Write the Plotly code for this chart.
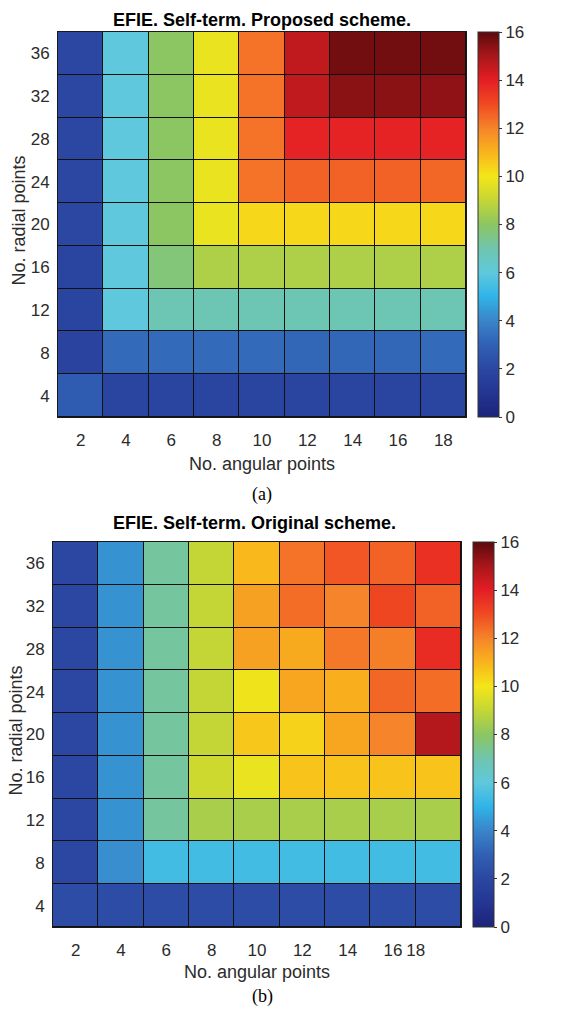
import plotly.graph_objects as go

W, H = 567, 1009

# Grid axes
angular_pts = [2, 4, 6, 8, 10, 12, 14, 16, 18]
radial_pts = [4, 8, 12, 16, 20, 24, 28, 32, 36]

# Self-term values, one row per radial count (4 -> 36)
proposed = [
    [2.8, 1.9, 1.9, 1.9, 1.9, 1.9, 1.9, 1.9, 1.9],
    [1.8, 3.3, 3.3, 3.3, 3.3, 3.2, 3.2, 3.2, 3.3],
    [1.9, 6.0, 6.9, 6.9, 6.9, 6.9, 6.9, 6.9, 6.9],
    [1.9, 6.0, 7.7, 8.6, 8.6, 8.6, 8.6, 8.6, 8.6],
    [2.0, 6.0, 8.0, 9.8, 10.3, 10.3, 10.3, 10.3, 10.3],
    [2.0, 6.0, 8.0, 9.8, 12.3, 12.6, 12.6, 12.6, 12.5],
    [2.0, 6.0, 8.0, 9.8, 12.3, 13.9, 13.9, 13.9, 13.9],
    [2.0, 6.0, 8.0, 9.8, 12.3, 14.6, 15.4, 15.4, 15.3],
    [2.0, 6.0, 8.0, 9.8, 12.3, 14.6, 15.7, 15.7, 15.7],
]
original = [
    [2.2, 2.2, 2.2, 2.2, 2.2, 2.2, 2.2, 2.2, 2.2],
    [2.0, 4.2, 5.4, 5.4, 5.4, 5.4, 5.4, 5.4, 5.4],
    [2.0, 4.3, 7.2, 8.5, 8.5, 8.5, 8.5, 8.5, 8.5],
    [2.0, 4.3, 7.2, 9.2, 9.8, 10.7, 10.7, 10.7, 10.7],
    [2.0, 4.3, 7.2, 9.0, 10.6, 10.4, 11.3, 12.0, 14.8],
    [2.0, 4.3, 7.2, 9.0, 9.9, 11.3, 11.1, 12.5, 12.4],
    [2.0, 4.3, 7.2, 9.0, 11.4, 11.2, 12.2, 12.1, 13.7],
    [2.0, 4.3, 7.2, 9.0, 11.4, 12.4, 12.0, 13.1, 12.6],
    [2.0, 4.3, 7.2, 9.0, 10.9, 12.3, 12.8, 12.6, 13.6],
]

# Tick labels of the lower panel (last label sits at the 16/18 cell border)
lower_tickvals = [2, 4, 6, 8, 10, 12, 14, 16, 17]
lower_ticktext = ["2", "4", "6", "8", "10", "12", "14", "16", "18"]
cbar_ticks = [0, 2, 4, 6, 8, 10, 12, 14, 16]

ZMAX = 16.0
cmap_stops = [
    (0, "#1c237a"), (1, "#243592"), (2, "#2b47a2"), (3, "#3060b4"),
    (4, "#3a84c9"), (5, "#30b4e8"), (6, "#5fc8dc"), (7, "#6fc6ae"),
    (8, "#8cc662"), (9, "#c4d636"), (10, "#f4e619"), (11, "#f9b41c"),
    (12, "#f5842a"), (13, "#f04a22"), (14, "#e41e24"), (15, "#a8161a"),
    (16, "#5c0a0c"),
]
colorscale = [[v / ZMAX, c] for v, c in cmap_stops]

FONT = "Liberation Sans, Arial, sans-serif"
TXT = "#2b2b2b"


def px_x(p):
    return p / W


def px_y(p):
    return 1 - p / H


panels = [
    dict(z=proposed, title="EFIE. Self-term. Proposed scheme.", caption="(a)",
         left=58, right=466, top=32, bottom=417, cb_left=478,
         title_y=20, title_x=262, ytitle_x=19,
         xtitle_y=464, cap_y=495,
         tickvals=angular_pts, ticktext=[str(a) for a in angular_pts]),
    dict(z=original, title="EFIE. Self-term. Original scheme.", caption="(b)",
         left=53, right=461, top=542, bottom=927, cb_left=473,
         title_y=523, title_x=254, ytitle_x=15,
         xtitle_y=972, cap_y=996,
         tickvals=lower_tickvals, ticktext=lower_ticktext),
]

fig = go.Figure()
annotations = []
for i, p in enumerate(panels, start=1):
    xa = "x" if i == 1 else f"x{i}"
    ya = "y" if i == 1 else f"y{i}"
    fig.add_trace(go.Heatmap(
        x=angular_pts, y=radial_pts, z=p["z"],
        xaxis=xa, yaxis=ya,
        zmin=0, zmax=ZMAX, colorscale=colorscale,
        xgap=1, ygap=1,
        colorbar=dict(
            x=px_x(p["cb_left"]), xanchor="left", xpad=0,
            y=px_y((p["top"] + p["bottom"]) / 2), yanchor="middle", ypad=0,
            lenmode="pixels", len=p["bottom"] - p["top"],
            thicknessmode="pixels", thickness=21,
            outlinewidth=1, outlinecolor="#333333",
            tickmode="array", tickvals=cbar_ticks,
            ticks="outside", ticklen=3, tickcolor="#333333",
            tickfont=dict(family=FONT, size=17, color=TXT),
        ),
        hoverinfo="skip",
    ))
    axis_common = dict(showgrid=False, zeroline=False, showline=True,
                       linecolor="#1a1a1a", linewidth=1, mirror=True,
                       ticks="", tickfont=dict(family=FONT, size=17, color=TXT))
    fig.layout[("xaxis" if i == 1 else f"xaxis{i}")] = dict(
        axis_common,
        domain=[px_x(p["left"]), px_x(p["right"])],
        anchor=ya, range=[1, 19],
        tickmode="array", tickvals=p["tickvals"], ticktext=p["ticktext"],
        ticklabelstandoff=8,
    )
    fig.layout[("yaxis" if i == 1 else f"yaxis{i}")] = dict(
        axis_common,
        domain=[px_y(p["bottom"]), px_y(p["top"])],
        anchor=xa, range=[2, 38],
        tickmode="array", tickvals=radial_pts,
        ticklabelstandoff=4,
    )
    annotations += [
        dict(text=f"<b>{p['title']}</b>", x=px_x(p["title_x"]), y=px_y(p["title_y"]),
             xref="paper", yref="paper", showarrow=False, xanchor="center", yanchor="middle",
             font=dict(family=FONT, size=18, color="#000000")),
        dict(text="No. angular points", x=px_x((p["left"] + p["right"]) / 2),
             y=px_y(p["xtitle_y"]), xref="paper", yref="paper", showarrow=False,
             xanchor="center", yanchor="middle",
             font=dict(family=FONT, size=18, color=TXT)),
        dict(text="No. radial points", x=px_x(p["ytitle_x"]),
             y=px_y((p["top"] + p["bottom"]) / 2 - 4), xref="paper", yref="paper",
             showarrow=False, textangle=-90, xanchor="center", yanchor="middle",
             font=dict(family=FONT, size=18, color=TXT)),
        dict(text=p["caption"], x=px_x(262), y=px_y(p["cap_y"]), xref="paper", yref="paper",
             showarrow=False, xanchor="center", yanchor="middle",
             font=dict(family="Liberation Serif, Times New Roman, serif", size=18, color="#000000")),
    ]

fig.update_layout(
    width=W, height=H,
    margin=dict(l=0, r=0, t=0, b=0),
    paper_bgcolor="white", plot_bgcolor="#111111",
    annotations=annotations,
    showlegend=False,
)

fig.write_html("out.html")
